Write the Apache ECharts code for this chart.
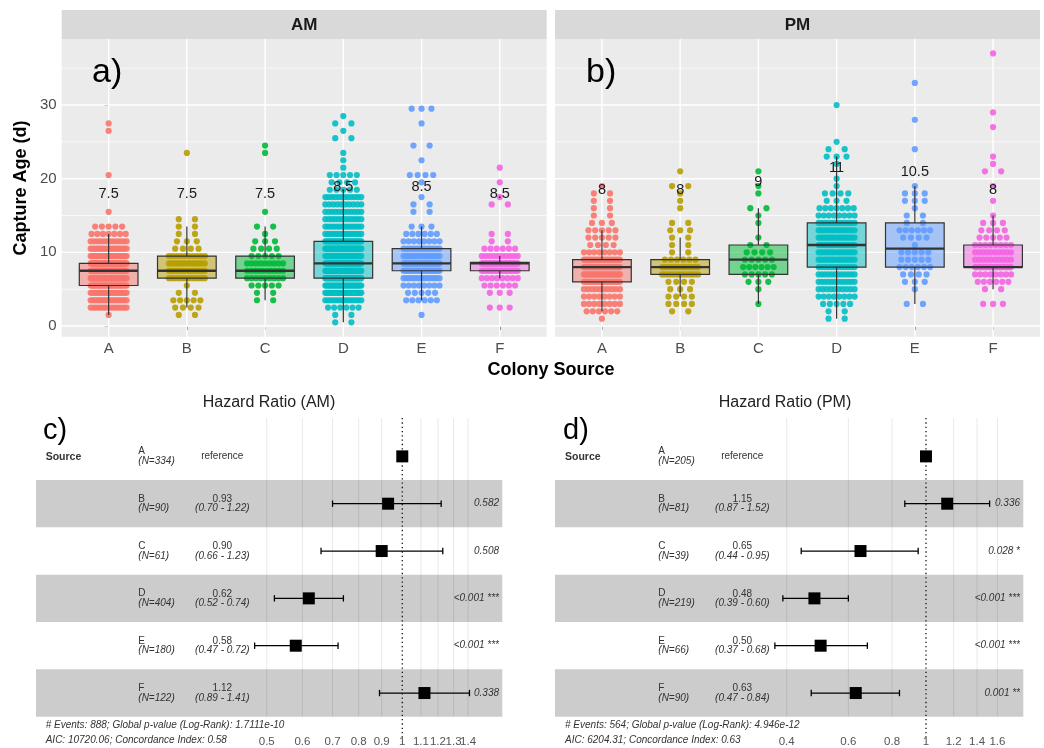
<!DOCTYPE html>
<html><head><meta charset="utf-8">
<script src="https://cdn.jsdelivr.net/npm/echarts@6/dist/echarts.min.js"></script>
<style>html,body{margin:0;padding:0;background:#fff}#c{width:1044px;height:748px}</style>
</head><body><div id="c"></div>
<script>
// ---------------- DATA ----------------
const categories = ['A','B','C','D','E','F'];
const yTickValues = [0, 10, 20, 30];
const yGridValues = [0, 5, 10, 15, 20, 25, 30, 35];

// Capture age observations per colony: [age (d), number of bees at that age]
const amA = [[1.5,1],[2.5,15],[3.5,20],[4.5,20],[5.5,30],[6.5,45],[7.5,50],[8.5,45],[9.5,25],[10.5,18],[11.5,12],[12.5,7],[13.5,5],[15.5,1],[20.5,1],[26.5,1],[27.5,1]];
const amB = [[1.5,2],[2.5,4],[3.5,5],[4.5,2],[5.5,1],[6.5,12],[7.5,15],[8.5,15],[9.5,10],[10.5,4],[11.5,3],[12.5,2],[13.5,2],[14.5,2],[23.5,1]];
const amC = [[3.5,2],[4.5,2],[5.5,5],[6.5,9],[7.5,10],[8.5,9],[9.5,5],[10.5,4],[11.5,3],[12.5,1],[13.5,2],[15.5,1],[23.5,1],[24.5,1]];
const amD = [[0.5,2],[1.5,2],[2.5,6],[3.5,14],[4.5,25],[5.5,30],[6.5,40],[7.5,45],[8.5,45],[9.5,28],[10.5,30],[11.5,25],[12.5,15],[13.5,14],[14.5,12],[15.5,12],[16.5,10],[17.5,12],[18.5,5],[19.5,4],[20.5,5],[21.5,1],[22.5,1],[23.5,1],[25.5,2],[26.5,1],[27.5,2],[28.5,1]];
const amE = [[1.5,1],[3.5,6],[4.5,5],[5.5,8],[6.5,14],[7.5,25],[8.5,30],[9.5,15],[10.5,14],[11.5,8],[12.5,6],[13.5,3],[15.5,2],[16.5,2],[17.5,1],[19.5,1],[20.5,4],[22.5,1],[24.5,2],[27.5,1],[29.5,3]];
const amF = [[2.5,3],[4.5,3],[5.5,6],[6.5,8],[7.5,20],[8.5,33],[9.5,10],[10.5,6],[11.5,2],[12.5,2],[16.5,2],[17.5,1],[19.5,1],[21.5,1]];

const pmA = [[1,1],[2,6],[3,8],[4,8],[5,10],[6,18],[7,20],[8,30],[9,18],[10,8],[11,4],[12,5],[13,5],[14,3],[15,2],[16,2],[17,2],[18,2],[19,1]];
const pmB = [[2,2],[3,4],[4,4],[5,3],[6,4],[7,12],[8,14],[9,6],[10,2],[11,2],[12,2],[13,3],[14,2],[16,1],[17,1],[18,1],[19,2],[21,1]];
const pmC = [[3,1],[5,1],[6,3],[7,5],[8,6],[9,5],[10,4],[11,2],[12,1],[14,1],[15,1],[16,2],[18,1],[19,1],[21,1]];
const pmD = [[1,2],[2,2],[3,5],[4,8],[5,10],[6,12],[7,12],[8,12],[9,14],[10,14],[11,18],[12,16],[13,14],[14,12],[15,8],[16,7],[17,3],[18,4],[19,1],[20,1],[22,1],[23,3],[24,2],[25,1],[30,1]];
const pmE = [[3,2],[5,1],[6,3],[7,4],[8,6],[9,5],[10,5],[11,1],[12,4],[13,6],[14,2],[15,2],[16,1],[17,3],[18,3],[19,1],[24,1],[28,1],[33,1]];
const pmF = [[3,3],[5,2],[6,6],[7,8],[8,36],[9,10],[10,10],[11,8],[12,5],[13,4],[14,3],[15,1],[17,1],[19,1],[21,2],[22,1],[23,1],[27,1],[29,1],[37,1]];

// box stats: [lower whisker, Q1, median, Q3, upper whisker]
const amBox = [[1.5,5.5,7.5,8.5,12.5],[2.5,6.5,7.5,9.5,13.5],[3.5,6.5,7.5,9.5,13.5],[0.5,6.5,8.5,11.5,18.5],[3.5,7.5,8.5,10.5,13.5],[6.5,7.5,8.5,8.65,9.5]];
const pmBox = [[2,6,8,9,13],[4,7,8,9,12],[3,7,9,11,16],[1,8,11,14,23],[3,8,10.5,14,19],[5,8,8,11,15]];
const amMedianText = ['7.5','7.5','7.5','8.5','8.5','8.5'];
const amMedianTextY = [17.9,17.9,17.9,18.9,18.9,17.9];
const pmMedianText = ['8','8','9','11','10.5','8'];
const pmMedianTextY = [18.4,18.4,19.5,21.4,20.9,18.4];

// Cox model (hazard ratios)
const hrAM = [1, 0.93, 0.90, 0.62, 0.58, 1.12];
const loAM = [null, 0.70, 0.66, 0.52, 0.47, 0.89];
const hiAM = [null, 1.22, 1.23, 0.74, 0.72, 1.41];
const nAM  = [334, 90, 61, 404, 180, 122];
const pAM  = ['', '0.582', '0.508', '<0.001 ***', '<0.001 ***', '0.338'];
const hrPM = [1, 1.15, 0.65, 0.48, 0.50, 0.63];
const loPM = [null, 0.87, 0.44, 0.39, 0.37, 0.47];
const hiPM = [null, 1.52, 0.95, 0.60, 0.68, 0.84];
const nPM  = [205, 81, 39, 219, 66, 90];
const pPM  = ['', '0.336', '0.028 *', '<0.001 ***', '<0.001 ***', '0.001 **'];
const ticksAM = [0.5, 0.6, 0.7, 0.8, 0.9, 1, 1.1, 1.2, 1.3, 1.4];
const ticksPM = [0.4, 0.6, 0.8, 1, 1.2, 1.4, 1.6];
const footAM = ['# Events: 888; Global p-value (Log-Rank): 1.7111e-10', 'AIC: 10720.06; Concordance Index: 0.58'];
const footPM = ['# Events: 564; Global p-value (Log-Rank): 4.946e-12', 'AIC: 6204.31; Concordance Index: 0.63'];

// ---------------- STYLE / LAYOUT ----------------
const colors = ['#F8766D','#B79F00','#00BA38','#00BFC4','#619CFF','#F564E3'];
const FF = '"Liberation Sans", Arial, Helvetica, sans-serif';
const JW = 0.23;
function rgba(hex, a){const n=parseInt(hex.slice(1),16);return `rgba(${n>>16&255},${n>>8&255},${n&255},${a})`;}

function spread(levels, ci){
  const pts=[];
  levels.forEach(([v,n])=>{
    const hw = n<=1 ? 0 : JW*Math.min(1, 0.35+0.1*(n-1));
    for(let i=0;i<n;i++){
      const off = n<=1 ? 0 : -hw + 2*hw*i/(n-1);
      pts.push([ci+off, v]);
    }
  });
  return pts;
}

const chart = echarts.init(document.getElementById('c'), null, {renderer:'canvas'});

const topGrids = [
  {left:61.7, top:39, width:485, height:297.7, show:true, backgroundColor:'#ebebeb', borderWidth:0},
  {left:555, top:39, width:485, height:297.7, show:true, backgroundColor:'#ebebeb', borderWidth:0}
];
const forestGrids = [
  {left:223.1, top:432.7, width:271.1, height:284, show:false},
  {left:743.0, top:432.7, width:272.3, height:284, show:false}
];

const xAxes = [], yAxes = [];
[0,1].forEach(g=>{
  xAxes.push({type:'value', gridIndex:g, min:-0.6, max:5.6,
    axisLine:{show:false}, splitLine:{show:false},
    axisTick:{show:true, customValues:[0,1,2,3,4,5], length:4, lineStyle:{color:'#333', width:1}},
    axisLabel:{show:true, customValues:[0,1,2,3,4,5], formatter:v=>categories[Math.round(v)], color:'#4d4d4d', fontSize:15, fontFamily:FF, margin:5}
  });
  yAxes.push({type:'value', gridIndex:g, min:-1.45, max:38.96,
    axisLine:{show:false}, splitLine:{show:false},
    axisTick:{show:g===0, customValues:yTickValues, length:4, lineStyle:{color:'#333', width:1}},
    axisLabel:{show:g===0, customValues:yTickValues, color:'#4d4d4d', fontSize:15, fontFamily:FF, margin:5}
  });
});
xAxes.push({type:'log', gridIndex:2, min:0.4, max:1.6, show:false});
yAxes.push({type:'value', gridIndex:2, min:-0.5, max:5.5, inverse:true, show:false});
xAxes.push({type:'log', gridIndex:3, min:0.3, max:1.8, show:false});
yAxes.push({type:'value', gridIndex:3, min:-0.5, max:5.5, inverse:true, show:false});

const series = [];
const sessions = [
  {levels:[amA,amB,amC,amD,amE,amF], box:amBox, mt:amMedianText, my:amMedianTextY},
  {levels:[pmA,pmB,pmC,pmD,pmE,pmF], box:pmBox, mt:pmMedianText, my:pmMedianTextY}
];
sessions.forEach((s,g)=>{
  // grid lines
  series.push({type:'custom', xAxisIndex:g, yAxisIndex:g, z:1, silent:true,
    data: yGridValues.map(v=>[0,v]),
    renderItem(p, api){
      const v=api.value(1);
      const a=api.coord([-0.6,v]), b=api.coord([5.6,v]);
      return {type:'line', shape:{x1:a[0],y1:a[1],x2:b[0],y2:b[1]}, style:{stroke:'#fff', lineWidth: v%10===0?1.4:0.7}};
    }});
  series.push({type:'custom', xAxisIndex:g, yAxisIndex:g, z:1, silent:true,
    data: categories.map((c,i)=>[i,0]),
    renderItem(p, api){
      const v=api.value(0);
      const a=api.coord([v,-1.45]), b=api.coord([v,38.96]);
      return {type:'line', shape:{x1:a[0],y1:a[1],x2:b[0],y2:b[1]}, style:{stroke:'#fff', lineWidth:1.4}};
    }});
  // points
  s.levels.forEach((lv,ci)=>{
    series.push({type:'scatter', xAxisIndex:g, yAxisIndex:g, z:2, silent:true,
      data: spread(lv,ci), symbolSize:6.2, itemStyle:{color:colors[ci], opacity:0.9}});
  });
  // boxes
  series.push({type:'custom', xAxisIndex:g, yAxisIndex:g, z:3, silent:true,
    data: s.box.map((b,i)=>[i,...b]),
    renderItem(p, api){
      const x=api.value(0), mn=api.value(1), q1=api.value(2), md=api.value(3), q3=api.value(4), mx=api.value(5);
      const hw=0.375;
      const tl=api.coord([x-hw,q3]), br=api.coord([x+hw,q1]);
      const a=api.coord([x,mn]), b=api.coord([x,q1]), c=api.coord([x,q3]), d=api.coord([x,mx]);
      const m1=api.coord([x-hw,md]), m2=api.coord([x+hw,md]);
      const col=colors[p.dataIndex];
      return {type:'group', children:[
        {type:'line', shape:{x1:a[0],y1:a[1],x2:b[0],y2:b[1]}, style:{stroke:'#333',lineWidth:1.2}},
        {type:'line', shape:{x1:c[0],y1:c[1],x2:d[0],y2:d[1]}, style:{stroke:'#333',lineWidth:1.2}},
        {type:'rect', shape:{x:tl[0],y:tl[1],width:br[0]-tl[0],height:br[1]-tl[1]}, style:{fill:rgba(col,0.5), stroke:'#333', lineWidth:1.2}},
        {type:'line', shape:{x1:m1[0],y1:m1[1],x2:m2[0],y2:m2[1]}, style:{stroke:'#333',lineWidth:2.3}}
      ]};
    }});
  // median labels
  series.push({type:'custom', xAxisIndex:g, yAxisIndex:g, z:4, silent:true,
    data: s.my.map((y,i)=>[i,y]),
    renderItem(p, api){
      const pt=api.coord([api.value(0),api.value(1)]);
      return {type:'text', x:pt[0], y:pt[1], style:{text:s.mt[p.dataIndex], fill:'#1a1a1a', font:`14.5px ${FF}`, align:'center', verticalAlign:'middle'}};
    }});
});

// forest plots
const forests = [
  {g:2, hr:hrAM, lo:loAM, hi:hiAM, n:nAM, p:pAM, ticks:ticksAM, bandX:[36,502.3], nameX:138.3, estX:222.3, pX:499},
  {g:3, hr:hrPM, lo:loPM, hi:hiPM, n:nPM, p:pPM, ticks:ticksPM, bandX:[555,1023.3], nameX:658.3, estX:742.3, pX:1020}
];
const TXT = '#333';
forests.forEach(f=>{
  const g=f.g;
  series.push({type:'custom', xAxisIndex:g, yAxisIndex:g, z:1, silent:true,
    data:[[1,1],[1,3],[1,5]],
    renderItem(p, api){
      const r=api.value(1);
      const t=api.coord([1,r-0.5])[1], b=api.coord([1,r+0.5])[1];
      return {type:'rect', shape:{x:f.bandX[0], y:t, width:f.bandX[1]-f.bandX[0], height:b-t}, style:{fill:'#cccccc'}};
    }});
  series.push({type:'custom', xAxisIndex:g, yAxisIndex:g, z:2, silent:true,
    data: f.ticks.filter(t=>t!==1).map(t=>[t,0]),
    renderItem(p, api){
      const v=api.value(0);
      const a=api.coord([v,-0.81]), b=api.coord([v,5.5]);
      return {type:'line', shape:{x1:a[0],y1:a[1],x2:b[0],y2:b[1]}, style:{stroke:'rgba(0,0,0,0.09)', lineWidth:1}};
    }});
  series.push({type:'custom', xAxisIndex:g, yAxisIndex:g, z:3, silent:true,
    data:[[1,0]],
    renderItem(p, api){
      const a=api.coord([1,-0.81]), b=api.coord([1,5.93]);
      return {type:'line', shape:{x1:a[0],y1:a[1],x2:b[0],y2:b[1]}, style:{stroke:'#111', lineWidth:1.3, lineDash:[1.3,3]}};
    }});
  // estimates
  series.push({type:'custom', xAxisIndex:g, yAxisIndex:g, z:4, silent:true,
    data: f.hr.map((h,i)=>[h,i]),
    renderItem(p, api){
      const i=p.dataIndex;
      const c=api.coord([api.value(0),api.value(1)]);
      const ch=[];
      if(f.lo[i]!=null){
        const l=api.coord([f.lo[i],i]), r=api.coord([f.hi[i],i]);
        ch.push({type:'line', shape:{x1:l[0],y1:l[1],x2:r[0],y2:r[1]}, style:{stroke:'#000',lineWidth:1.3}});
        ch.push({type:'line', shape:{x1:l[0],y1:l[1]-3.2,x2:l[0],y2:l[1]+3.2}, style:{stroke:'#000',lineWidth:1.3}});
        ch.push({type:'line', shape:{x1:r[0],y1:r[1]-3.2,x2:r[0],y2:r[1]+3.2}, style:{stroke:'#000',lineWidth:1.3}});
      }
      ch.push({type:'rect', shape:{x:c[0]-6,y:c[1]-6,width:12,height:12}, style:{fill:'#000'}});
      return {type:'group', children:ch};
    }});
  // table text
  series.push({type:'custom', xAxisIndex:g, yAxisIndex:g, z:5, silent:true,
    data: f.hr.map((h,i)=>[1,i]),
    renderItem(p, api){
      const i=p.dataIndex;
      const yc=api.coord([1,i])[1];
      const T=(x,y,t,al,font)=>({type:'text', x, y, style:{text:t, fill:TXT, font:font, align:al, verticalAlign:'middle'}});
      const ch=[
        T(f.nameX, yc-4.8, categories[i], 'left', `10px ${FF}`),
        T(f.nameX, yc+5, `(N=${f.n[i]})`, 'left', `italic 10px ${FF}`)
      ];
      if(f.lo[i]==null){
        ch.push(T(f.estX, yc, 'reference', 'center', `10px ${FF}`));
      } else {
        ch.push(T(f.estX, yc-4.4, f.hr[i].toFixed(2), 'center', `10px ${FF}`));
        ch.push(T(f.estX, yc+4.8, `(${f.lo[i].toFixed(2)} - ${f.hi[i].toFixed(2)})`, 'center', `italic 10px ${FF}`));
        ch.push(T(f.pX, yc, f.p[i], 'right', `italic 10px ${FF}`));
      }
      return {type:'group', children:ch};
    }});
  // tick labels
  series.push({type:'custom', xAxisIndex:g, yAxisIndex:g, z:5, silent:true,
    data: f.ticks.map(t=>[t,0]),
    renderItem(p, api){
      const x=api.coord([api.value(0),0])[0];
      return {type:'text', x, y:741.7, style:{text:String(f.ticks[p.dataIndex]), fill:'#555', font:`11.5px ${FF}`, align:'center', verticalAlign:'middle'}};
    }});
});

const graphic = [
  {type:'rect', shape:{x:61.7,y:10,width:485,height:29}, style:{fill:'#d9d9d9'}},
  {type:'rect', shape:{x:555,y:10,width:485,height:29}, style:{fill:'#d9d9d9'}},
  {type:'text', x:304.2, y:25, style:{text:'AM', font:`bold 17px ${FF}`, fill:'#1a1a1a', align:'center', verticalAlign:'middle'}},
  {type:'text', x:797.5, y:25, style:{text:'PM', font:`bold 17px ${FF}`, fill:'#1a1a1a', align:'center', verticalAlign:'middle'}},
  {type:'text', x:92, y:73, z:10, style:{text:'a)', font:`34px ${FF}`, fill:'#000', align:'left', verticalAlign:'middle'}},
  {type:'text', x:586, y:73, z:10, style:{text:'b)', font:`34px ${FF}`, fill:'#000', align:'left', verticalAlign:'middle'}},
  {type:'text', x:21.5, y:188, rotation:Math.PI/2, style:{text:'Capture Age (d)', font:`bold 18px ${FF}`, fill:'#000', align:'center', verticalAlign:'middle'}},
  {type:'text', x:551, y:370, style:{text:'Colony Source', font:`bold 18px ${FF}`, fill:'#000', align:'center', verticalAlign:'middle'}},
  {type:'text', x:269, y:402.7, style:{text:'Hazard Ratio (AM)', font:`16px ${FF}`, fill:'#222', align:'center', verticalAlign:'middle'}},
  {type:'text', x:785, y:402.7, style:{text:'Hazard Ratio (PM)', font:`16px ${FF}`, fill:'#222', align:'center', verticalAlign:'middle'}},
  {type:'text', x:43, y:431, style:{text:'c)', font:`29px ${FF}`, fill:'#000', align:'left', verticalAlign:'middle'}},
  {type:'text', x:563, y:431, style:{text:'d)', font:`29px ${FF}`, fill:'#000', align:'left', verticalAlign:'middle'}},
  {type:'text', x:45.7, y:456.7, style:{text:'Source', font:`bold 10.5px ${FF}`, fill:TXT, align:'left', verticalAlign:'middle'}},
  {type:'text', x:565, y:456.7, style:{text:'Source', font:`bold 10.5px ${FF}`, fill:TXT, align:'left', verticalAlign:'middle'}},
  {type:'text', x:45.7, y:725.7, style:{text:footAM[0], font:`italic 10px ${FF}`, fill:TXT, align:'left', verticalAlign:'middle'}},
  {type:'text', x:45.7, y:740.7, style:{text:footAM[1], font:`italic 10px ${FF}`, fill:TXT, align:'left', verticalAlign:'middle'}},
  {type:'text', x:565, y:725.7, style:{text:footPM[0], font:`italic 10px ${FF}`, fill:TXT, align:'left', verticalAlign:'middle'}},
  {type:'text', x:565, y:740.7, style:{text:footPM[1], font:`italic 10px ${FF}`, fill:TXT, align:'left', verticalAlign:'middle'}}
];

chart.setOption({
  animation:false,
  backgroundColor:'#ffffff',
  textStyle:{fontFamily:FF},
  grid:[...topGrids, ...forestGrids],
  xAxis:xAxes, yAxis:yAxes,
  series, graphic
});
</script></body></html>
